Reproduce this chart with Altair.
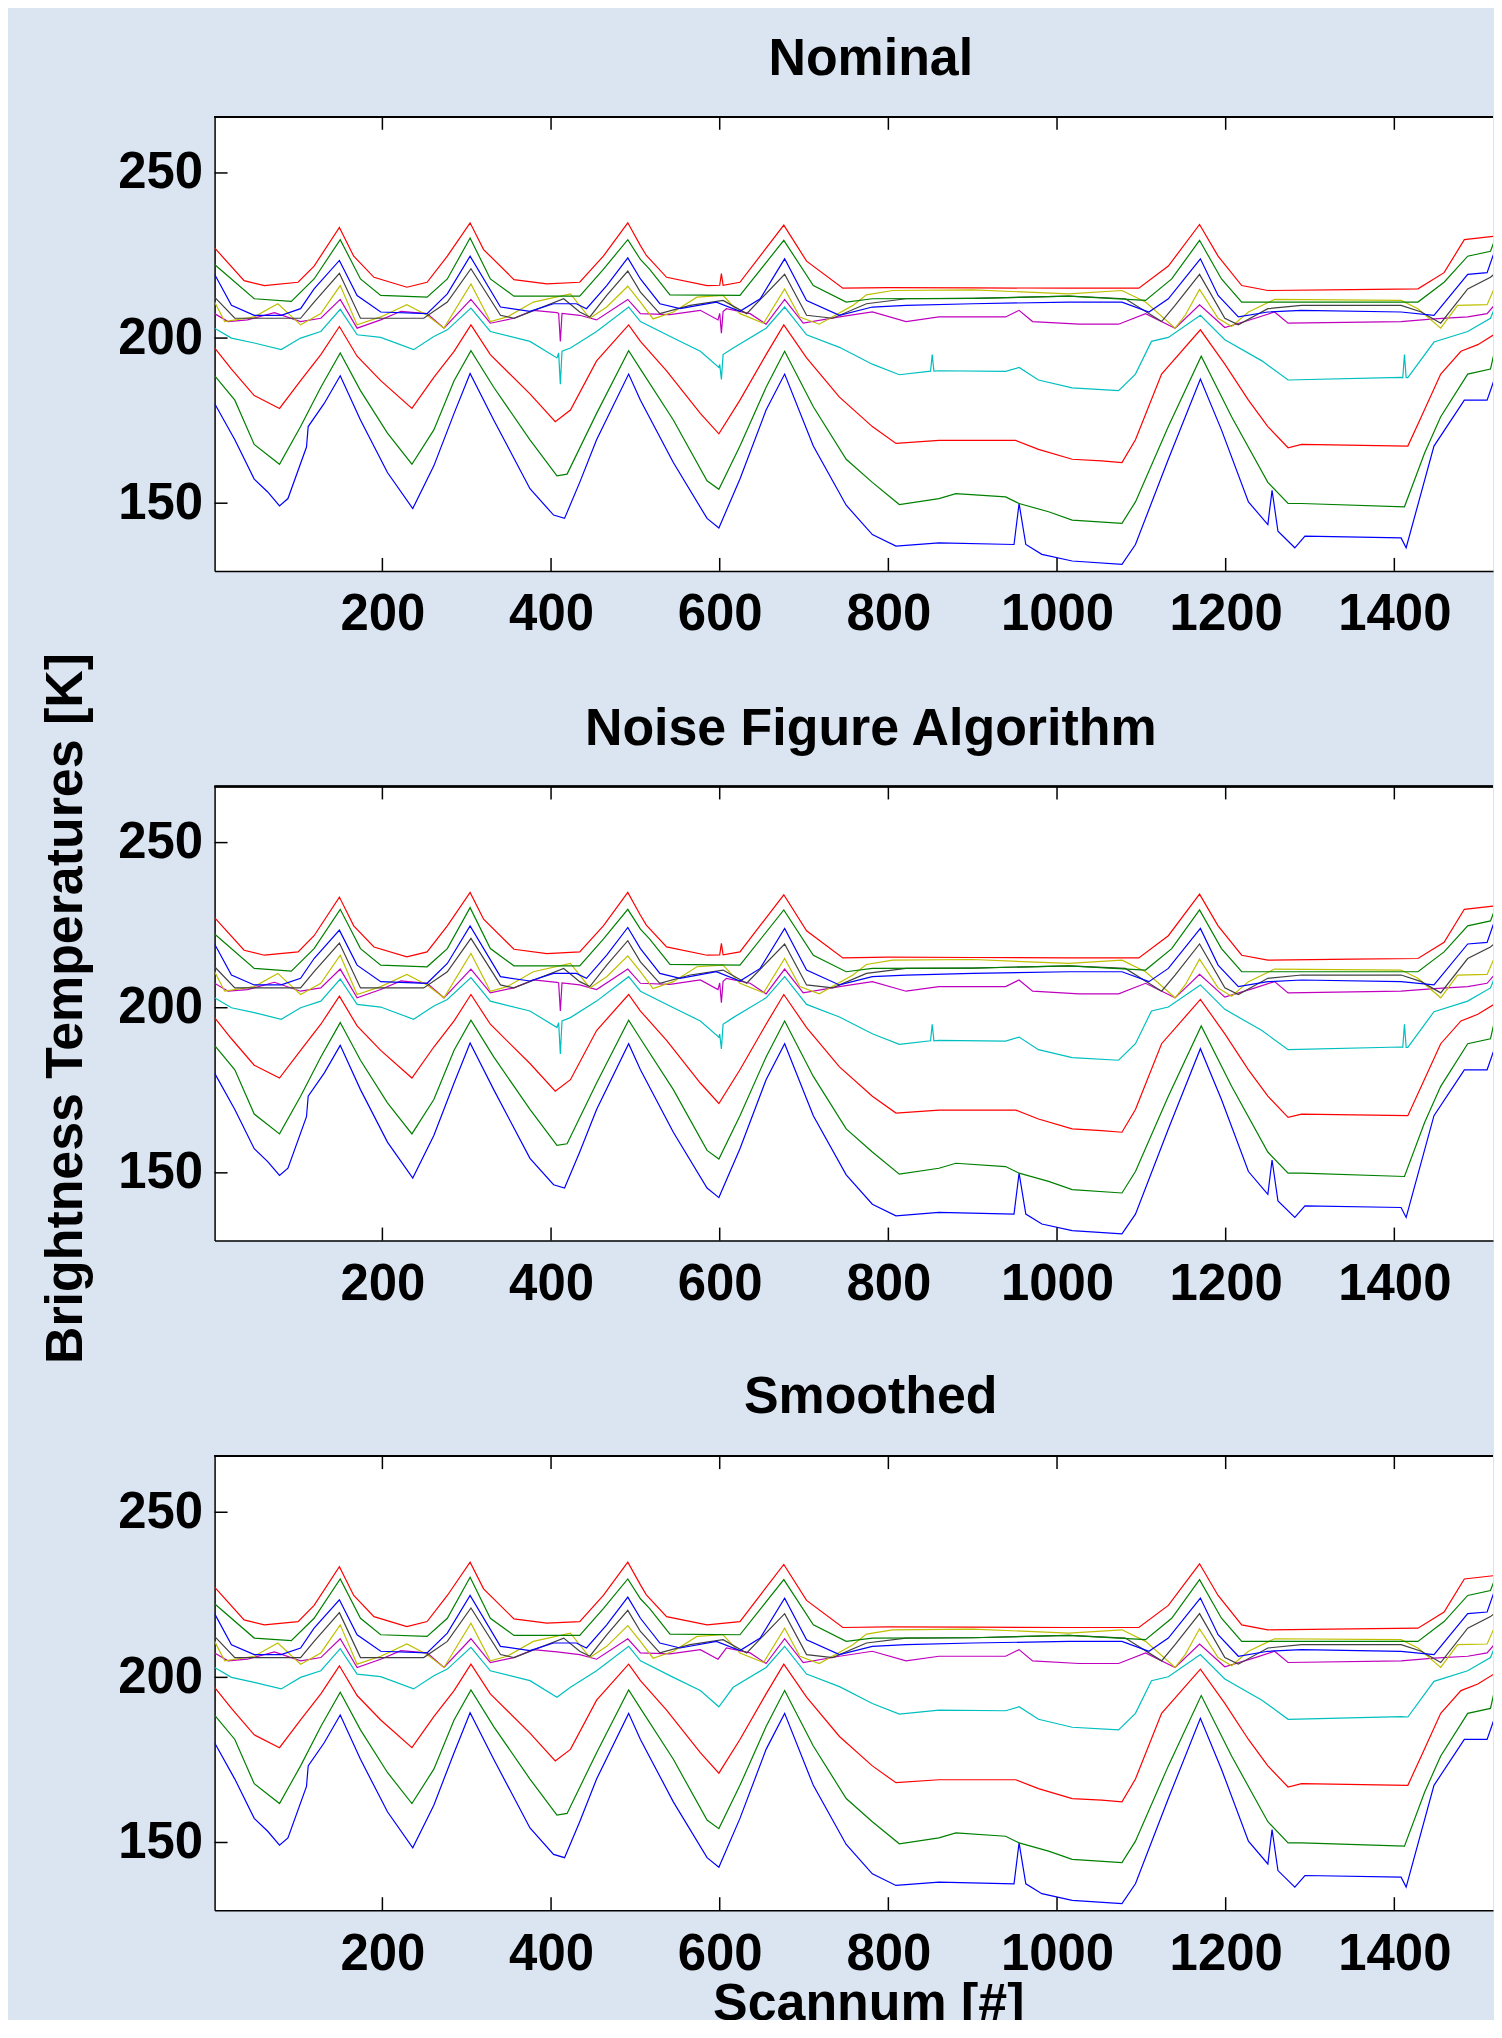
import altair as alt
import pandas as pd

# ---------------- data ----------------
channels = ["ch01", "ch02", "ch03", "ch04", "ch05", "ch06", "ch07", "ch08", "ch09", "ch10"]
colors = ["#0000ff", "#008000", "#ff0000", "#00bfbf", "#bf00bf", "#bfbf00", "#404040",
          "#0000ff", "#008000", "#ff0000"]

ch01_x = [1, 25, 48, 64, 78, 88, 110, 112, 131, 150, 174, 206, 236, 261, 285, 304, 332, 375, 403, 416,
          434, 454, 492, 506, 545, 585, 599, 624, 655, 677, 711, 750, 781, 809, 860, 949, 955, 963, 982,
          1018, 1077, 1093, 1132, 1170, 1195, 1227, 1250, 1255, 1262, 1282, 1294, 1408, 1414, 1447, 1483,
          1510, 1518, 1525]
ch01_y = [180.2, 169.2, 157.3, 153.4, 149.2, 151.4, 167.0, 173.2, 180.2, 188.6, 175.2, 159.3, 148.4, 161.3,
          177.2, 189.3, 175.2, 154.4, 146.4, 145.4, 156.3, 169.2, 189.1, 181.2, 162.3, 145.4, 142.5, 157.3,
          178.2, 189.1, 167.3, 149.4, 140.5, 137.0, 138.0, 137.5, 149.9, 137.5, 134.5, 132.5, 131.5, 137.5,
          163.3, 187.6, 172.2, 150.4, 143.5, 153.9, 141.5, 136.5, 140.0, 139.5, 136.5, 167.3, 181.2, 181.2,
          187.1, 198.0]

ch02_x = [1, 25, 48, 78, 103, 127, 150, 174, 206, 235, 261, 285, 305, 332, 375, 407, 419, 454, 492, 506,
          545, 585, 599, 624, 655, 677, 711, 750, 781, 813, 860, 880, 939, 955, 990, 1018, 1077, 1093, 1132,
          1171, 1207, 1250, 1274, 1290, 1412, 1436, 1455, 1487, 1514, 1525]
ch02_y = [188.6, 181.2, 167.8, 161.8, 173.2, 185.1, 195.5, 184.1, 171.2, 161.8, 172.2, 187.1, 196.2, 185.1,
          169.2, 158.3, 158.8, 177.2, 196.2, 190.6, 175.2, 156.8, 154.2, 167.3, 185.1, 196.0, 179.2, 163.3,
          156.3, 149.6, 151.4, 152.9, 151.9, 149.9, 147.4, 144.9, 143.9, 150.4, 173.2, 194.5, 176.2, 156.3,
          149.9, 149.9, 148.9, 165.3, 176.2, 189.1, 190.6, 203.0]

ch03_x = [1, 21, 48, 78, 103, 127, 149, 170, 198, 235, 261, 285, 305, 328, 375, 405, 423, 454, 492, 506,
          537, 577, 599, 624, 655, 676, 703, 742, 781, 809, 860, 951, 978, 1018, 1053, 1077, 1093, 1124,
          1170, 1199, 1227, 1250, 1274, 1290, 1416, 1432, 1455, 1479, 1499, 1518, 1525]
ch03_y = [197.0, 190.6, 182.6, 178.7, 187.1, 195.0, 203.5, 194.5, 187.1, 178.7, 188.1, 196.0, 204.0, 195.0,
          183.1, 174.7, 178.2, 193.1, 204.0, 199.0, 190.1, 177.2, 171.0, 181.2, 195.0, 204.0, 194.0, 182.1,
          173.2, 168.1, 169.0, 169.0, 166.3, 163.3, 162.8, 162.3, 169.2, 189.1, 202.5, 192.1, 181.2, 173.2,
          166.8, 167.8, 167.3, 176.2, 189.1, 196.0, 198.0, 201.0, 207.9]

ch04_x = [1, 21, 48, 80, 103, 127, 150, 170, 198, 237, 261, 277, 305, 328, 375, 407, 423, 454, 492, 506,
          545, 577, 599, 616, 655, 677, 703, 742, 781, 813, 860, 939, 955, 978, 1018, 1073, 1093, 1112, 1132,
          1170, 1199, 1243, 1274, 1408, 1416, 1447, 1487, 1514, 1525]
ch04_y = [203.0, 200.0, 198.5, 196.5, 200.0, 202.0, 208.7, 201.0, 200.2, 196.5, 200.5, 202.5, 209.1, 202.0,
          199.0, 194.0, 197.0, 202.0, 209.4, 205.0, 200.0, 196.0, 191.1, 197.0, 203.0, 209.4, 201.0, 197.2,
          192.1, 188.9, 190.1, 189.9, 191.1, 187.3, 184.9, 184.1, 189.1, 199.0, 200.2, 206.9, 199.5, 193.1,
          187.3, 188.1, 188.0, 198.8, 202.0, 206.0, 212.9]

ch05_x = [1, 17, 40, 72, 103, 127, 150, 170, 198, 222, 253, 273, 305, 328, 356, 379, 407, 434, 454, 491,
          506, 541, 577, 598, 608, 636, 655, 677, 699, 742, 781, 821, 860, 939, 955, 971, 1026, 1073, 1105,
          1140, 1169, 1199, 1235, 1258, 1274, 1408, 1447, 1487, 1510, 1525]
ch05_y = [207.4, 205.0, 205.5, 207.7, 205.0, 206.0, 211.7, 203.0, 205.5, 208.1, 207.4, 203.0, 211.7, 204.5,
          206.0, 208.4, 207.7, 206.9, 205.5, 211.7, 207.4, 207.1, 208.4, 205.5, 208.9, 207.4, 204.2, 211.7,
          204.5, 206.4, 207.9, 205.0, 206.4, 206.4, 208.4, 205.0, 204.2, 204.2, 207.4, 203.0, 210.1, 203.2,
          206.0, 207.9, 204.5, 205.0, 205.8, 206.4, 207.4, 211.9]

ch06_x = [1, 13, 48, 76, 103, 127, 150, 170, 198, 229, 253, 273, 305, 328, 348, 379, 423, 446, 466, 491,
          506, 521, 545, 573, 604, 624, 652, 677, 695, 718, 758, 774, 805, 900, 1014, 1077, 1105, 1140, 1152,
          1169, 1191, 1207, 1227, 1258, 1408, 1428, 1455, 1475, 1510, 1520, 1525]
ch06_y = [210.9, 205.0, 206.4, 210.4, 204.0, 207.4, 215.9, 204.0, 206.4, 210.1, 206.9, 203.0, 216.4, 205.0,
          206.4, 210.9, 213.4, 206.0, 209.4, 215.7, 210.9, 205.8, 207.9, 212.4, 212.9, 207.4, 204.5, 214.9,
          206.4, 204.2, 209.9, 213.1, 214.4, 214.6, 213.4, 214.4, 210.9, 203.0, 206.9, 214.7, 206.0, 203.5,
          207.9, 211.7, 211.4, 208.9, 203.0, 209.9, 210.1, 215.9, 220.8]

ch07_x = [1, 25, 103, 119, 149, 174, 249, 277, 305, 340, 356, 415, 434, 446, 466, 491, 506, 529, 565, 604,
          632, 677, 703, 734, 774, 821, 900, 1014, 1081, 1124, 1140, 1169, 1199, 1215, 1250, 1290, 1408,
          1432, 1455, 1487, 1514, 1525]
ch07_y = [212.4, 206.0, 206.0, 210.9, 219.6, 206.0, 206.0, 210.9, 221.0, 206.9, 206.0, 211.9, 207.9, 206.4,
          212.9, 220.3, 213.9, 207.4, 209.9, 211.4, 207.4, 219.3, 206.9, 206.0, 210.4, 211.9, 212.0, 212.7,
          211.9, 205.0, 209.9, 219.3, 206.0, 204.0, 208.9, 209.9, 209.9, 207.9, 204.5, 214.9, 218.4, 220.8]

ch08_x = [1, 21, 48, 80, 103, 119, 149, 170, 198, 253, 277, 304, 340, 375, 403, 430, 442, 466, 491, 506,
          529, 553, 596, 624, 648, 677, 703, 742, 781, 821, 900, 1014, 1077, 1109, 1132, 1170, 1191, 1215,
          1250, 1290, 1408, 1447, 1487, 1510, 1525]
ch08_y = [219.3, 209.9, 206.9, 206.9, 208.9, 214.9, 223.5, 212.9, 207.9, 207.4, 213.4, 224.8, 209.4, 208.1,
          210.4, 210.4, 208.9, 215.9, 224.3, 217.9, 210.4, 208.9, 210.9, 208.1, 211.9, 224.0, 211.4, 206.9,
          209.4, 209.9, 210.4, 210.9, 210.9, 207.9, 211.9, 224.0, 212.9, 206.4, 207.9, 208.4, 207.9, 206.9,
          219.3, 219.8, 230.8]

ch09_x = [1, 48, 92, 119, 150, 174, 198, 253, 277, 304, 328, 356, 434, 462, 491, 506, 517, 541, 624, 676,
          711, 750, 781, 900, 1014, 1105, 1136, 1169, 1195, 1219, 1300, 1428, 1459, 1487, 1514, 1525]
ch09_y = [222.3, 211.9, 211.1, 217.9, 229.8, 217.9, 212.9, 212.4, 217.9, 230.3, 217.9, 212.7, 212.7, 220.8,
          229.8, 223.8, 220.8, 213.1, 212.9, 229.6, 215.9, 210.9, 211.9, 212.0, 212.7, 211.4, 217.9, 229.6,
          217.9, 210.9, 210.9, 210.9, 216.9, 224.8, 226.3, 233.7]

ch10_x = [1, 36, 60, 100, 119, 149, 166, 190, 229, 253, 277, 304, 320, 356, 395, 434, 462, 491, 506, 513,
          537, 585, 624, 676, 703, 746, 800, 900, 1014, 1097, 1132, 1169, 1191, 1219, 1250, 1350, 1428,
          1459, 1483, 1518, 1525]
ch10_y = [227.3, 217.4, 215.9, 216.9, 221.8, 233.5, 224.8, 218.4, 215.4, 216.9, 224.8, 234.9, 226.8, 217.7,
          216.4, 216.9, 224.8, 234.9, 228.0, 225.0, 218.4, 215.9, 216.9, 234.2, 223.3, 215.1, 215.3, 215.2,
          215.1, 215.1, 221.8, 234.4, 224.8, 215.9, 214.4, 214.7, 214.9, 219.8, 229.8, 230.8, 236.7]

# single-scan spikes visible in the unsmoothed panels (scan, value)
spikes_ch05 = [(409, 207.5), (411, 199.0), (413, 207.5), (600, 207.5), (602, 201.5), (604, 208.0)]
spikes_ch04 = [(409, 195.5), (411, 186.0), (413, 196.0), (600, 192.0), (602, 187.5), (604, 195.0),
               (850, 190.0), (852, 195.0), (854, 190.0), (1410, 188.0), (1412, 195.0), (1414, 188.0)]
spikes_ch10 = [(600, 216.0), (602, 219.5), (604, 216.0)]

titles = ["Nominal", "Noise Figure Algorithm", "Smoothed"]
x_ticks = [200, 400, 600, 800, 1000, 1200, 1400]
y_ticks = [150, 200, 250]

# ---------------- build tables ----------------
series_xy = {
    "ch01": (ch01_x, ch01_y), "ch02": (ch02_x, ch02_y), "ch03": (ch03_x, ch03_y),
    "ch04": (ch04_x, ch04_y), "ch05": (ch05_x, ch05_y), "ch06": (ch06_x, ch06_y),
    "ch07": (ch07_x, ch07_y), "ch08": (ch08_x, ch08_y), "ch09": (ch09_x, ch09_y),
    "ch10": (ch10_x, ch10_y),
}
noisy_extras = {"ch04": spikes_ch04, "ch05": spikes_ch05, "ch10": spikes_ch10}


def build(extras):
    rows = []
    for k, name in enumerate(channels):
        xs, ys = series_xy[name]
        pts = list(zip(xs, ys)) + list(extras.get(name, []))
        pts.sort()
        for x, y in pts:
            rows.append({"scan": x, "tb": y, "ch": name, "k": k})
    return pd.DataFrame(rows)


tables = [build(noisy_extras), build(noisy_extras), build({})]

# ---------------- layout ----------------
W, H = 1281, 455
X_DOM = [1, 1517]
Y_DOM = [129.5, 267]
FONT = "Liberation Sans"
TICK = 13
YTITLE = "Brightness Temperatures [K]"
YTITLE_Y = 222
TITLE_OFFSETS = [-11, -145, -10]

xs = alt.Scale(domain=X_DOM, nice=False, zero=False)
ys = alt.Scale(domain=Y_DOM, nice=False, zero=False)


def panel(i):
    last = i == 2
    x_kw = dict(values=x_ticks, format="d", ticks=False, tickSize=0, grid=False, domainColor="black",
                domainWidth=1.5, labelFont=FONT, labelFontSize=51, labelFontWeight="bold",
                labelColor="black", labelPadding=19, labelFlush=False)
    if last:
        x_kw.update(title="Scannum [#]", titleFont=FONT, titleFontSize=52, titleFontWeight="bold",
                    titleColor="black", titlePadding=0, titleX=655)
    else:
        x_kw.update(title=None)
    y_kw = dict(values=y_ticks, ticks=False, tickSize=0, grid=False, domainColor="black",
                domainWidth=1.5, labelFont=FONT, labelFontSize=51, labelFontWeight="bold",
                labelColor="black", labelPadding=12, labelFlush=False)
    if i == 1:
        y_kw.update(title=YTITLE, titleFont=FONT, titleFontSize=52, titleFontWeight="bold",
                    titleColor="black", titlePadding=25, titleY=YTITLE_Y)
    else:
        y_kw.update(title=None)

    lines = alt.Chart(tables[i]).mark_line(strokeWidth=1.2, clip=True).encode(
        x=alt.X("scan:Q", scale=xs, axis=alt.Axis(**x_kw)),
        y=alt.Y("tb:Q", scale=ys, axis=alt.Axis(**y_kw)),
        color=alt.Color("ch:N", scale=alt.Scale(domain=channels, range=colors), legend=None),
        order=alt.Order("scan:Q"),
        detail="ch:N",
    )
    xt = pd.DataFrame({"scan": x_ticks})
    yt = pd.DataFrame({"tb": y_ticks})
    bottom_ticks = alt.Chart(xt).mark_rule(color="black", strokeWidth=1.5).encode(
        x=alt.X("scan:Q", scale=xs), y=alt.value(H), y2=alt.value(H - TICK))
    top_ticks = alt.Chart(xt).mark_rule(color="black", strokeWidth=1.5).encode(
        x=alt.X("scan:Q", scale=xs), y=alt.value(0), y2=alt.value(TICK))
    left_ticks = alt.Chart(yt).mark_rule(color="black", strokeWidth=1.5).encode(
        y=alt.Y("tb:Q", scale=ys), x=alt.value(0), x2=alt.value(TICK))
    top_border = alt.Chart(xt).mark_rule(color="black", strokeWidth=1.5).encode(
        x=alt.value(0), x2=alt.value(W), y=alt.value(0))
    return alt.layer(lines, bottom_ticks, top_ticks, left_ticks, top_border).properties(
        width=W, height=H,
        title=alt.TitleParams(titles[i], font=FONT, fontSize=52, fontWeight="bold", color="black",
                              anchor="middle", frame="group", dx=17, offset=TITLE_OFFSETS[i],
                              baseline="alphabetic"),
    )


chart = alt.vconcat(panel(0), panel(1), panel(2), spacing=216, bounds="flush").properties(
    padding={"left": 31, "top": 23, "right": 0, "bottom": -12},
    background="#dbe5f1",
).configure_view(stroke=None, fill="white")

chart.save("out.html", embed_options={"renderer": "svg", "actions": False})
